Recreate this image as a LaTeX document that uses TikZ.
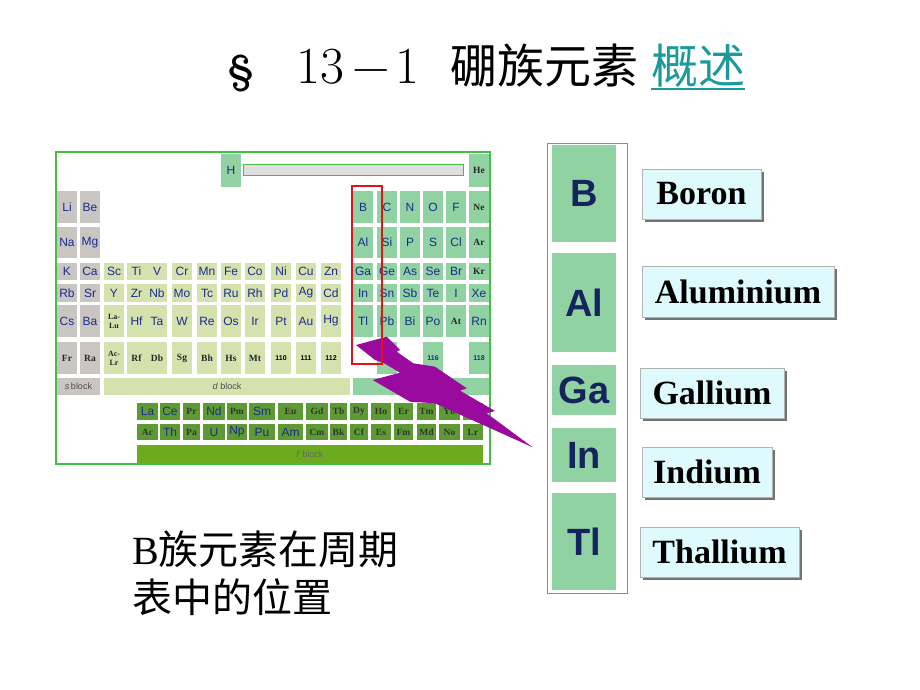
\documentclass[tikz,border=0pt]{standalone}
\usepackage{fontspec}
\usepackage{xcolor}
\usetikzlibrary{positioning, shadows}
\newfontfamily\cjk{Noto Sans CJK SC}
\newfontfamily\arialf{Liberation Sans}
\newfontfamily\timesf{Liberation Serif}
\definecolor{symblue}{HTML}{1B2C8E}
\definecolor{sgray}{HTML}{C9C6C2}
\definecolor{dgreen}{HTML}{D5E2AE}
\definecolor{pgreen}{HTML}{90D2A2}
\definecolor{fgreen}{HTML}{5E9A33}
\definecolor{fbar}{HTML}{6CAA1E}
\definecolor{framegreen}{HTML}{44BF44}
\definecolor{boltpurple}{HTML}{9A0A9E}
\definecolor{navy}{HTML}{16245E}
\definecolor{namecyan}{HTML}{DEFAFD}
\definecolor{tealtitle}{HTML}{1A9A9A}
\definecolor{markred}{HTML}{E8101A}
\definecolor{framered}{HTML}{E06868}

\begin{document}
\begin{tikzpicture}[x=1pt, y=-1pt,
    cell/.style={inner sep=0pt, minimum width=20pt},
    sym/.style={text=symblue, font=\arialf\fontsize{12}{12}\selectfont},
    syn/.style={text=black!85, font=\timesf\bfseries\fontsize{9.5}{10}\selectfont},
    num/.style={font=\arialf\bfseries\fontsize{7}{7}\selectfont},
    sb/.style={cell, fill=sgray, sym}, sn/.style={cell, fill=sgray, syn},
    db/.style={cell, fill=dgreen, sym}, dn/.style={cell, fill=dgreen, syn},
    dnum/.style={cell, fill=dgreen, num, text=black},
    pb/.style={cell, fill=pgreen, sym}, pn/.style={cell, fill=pgreen, syn},
    pnum/.style={cell, fill=pgreen, num, text=symblue},
    fb/.style={cell, fill=fgreen, sym}, fn/.style={cell, fill=fgreen, syn, text=black!80},
    blocklabel/.style={cell, minimum height=17pt, text=black!70, font=\arialf\fontsize{9}{9}\selectfont},
    bigsym/.style={inner sep=0pt, fill=pgreen, minimum width=64pt, text=navy, font=\arialf\bfseries\fontsize{38}{38}\selectfont},
    namebox/.style={draw=gray!60, fill=namecyan, inner sep=0pt, minimum height=50pt,
      font=\timesf\bfseries\fontsize{34}{34}\selectfont,
      drop shadow={shadow xshift=3pt, shadow yshift=-3pt, fill=black!55, opacity=1}}]
  \fill[white] (0,0) rectangle (920,690);
  \useasboundingbox (0,0) rectangle (920,690);

  % title
  \node[anchor=base, font=\bfseries\fontsize{40}{40}\selectfont] (sect) at (241,84) {\S};
  \node[anchor=base, font=\fontsize{52}{52}\selectfont] (num13) at (320,84) {13};
  \node[anchor=base, font=\fontsize{52}{52}\selectfont] (minus) at (371,84) {−};
  \node[anchor=base, font=\fontsize{52}{52}\selectfont] (num1) at (407,84) {1};
  \node[anchor=base west, inner sep=0pt, font=\cjk\fontsize{47}{47}\selectfont] (family) at (450,84) {硼族元素};
  \node[anchor=base west, inner sep=0pt, text=tealtitle, font=\cjk\fontsize{47}{47}\selectfont] (overview) at (651,84) {概述};
  \draw[tealtitle, line width=2.5pt] ([yshift=-5pt]overview.base west) -- ([yshift=-5pt]overview.base east);

  % periodic table
  \node[pb, minimum height=33pt] (eH) at (231,170.5) {H};
  \node[draw=framegreen, fill=gray!25, inner sep=0pt, minimum width=220pt, minimum height=11pt] (hbar) at (353.5,169.5) {};
  \node[pn, minimum height=33pt] (eHe) at (479,170.5) {He};
  \foreach \x/\s/\k in {67/Li/sb, 90/Be/sb, 363/B/pb, 387/C/pb, 410/N/pb, 433/O/pb, 456/F/pb, 479/Ne/pn}
    \node[\k, minimum height=32pt] (e\s) at (\x,207) {\s};
  \foreach \x/\s/\k in {67/Na/sb, 90/Mg/sb, 363/Al/pb, 387/Si/pb, 410/P/pb, 433/S/pb, 456/Cl/pb, 479/Ar/pn}
    \node[\k, minimum height=31pt] (e\s) at (\x,242.5) {\s};
  \foreach \x/\s/\k in {67/K/sb, 90/Ca/sb, 114/Sc/db, 136.5/Ti/db, 157/V/db, 182/Cr/db, 207/Mn/db,
      231/Fe/db, 255/Co/db, 281/Ni/db, 306/Cu/db, 331/Zn/db, 363/Ga/pb, 387/Ge/pb, 410/As/pb,
      433/Se/pb, 456/Br/pb, 479/Kr/pn}
    \node[\k, minimum height=17pt] (e\s) at (\x,271.5) {\s};
  \foreach \x/\s/\k in {67/Rb/sb, 90/Sr/sb, 114/Y/db, 136.5/Zr/db, 157/Nb/db, 182/Mo/db, 207/Tc/db,
      231/Ru/db, 255/Rh/db, 281/Pd/db, 306/Ag/db, 331/Cd/db, 363/In/pb, 387/Sn/pb, 410/Sb/pb,
      433/Te/pb, 456/I/pb, 479/Xe/pb}
    \node[\k, minimum height=18pt] (e\s) at (\x,293) {\s};
  \foreach \x/\s/\k in {67/Cs/sb, 90/Ba/sb, 136.5/Hf/db, 157/Ta/db, 182/W/db, 207/Re/db,
      231/Os/db, 255/Ir/db, 281/Pt/db, 306/Au/db, 331/Hg/db, 363/Tl/pb, 387/Pb/pb, 410/Bi/pb,
      433/Po/pb, 456/At/pn, 479/Rn/pb}
    \node[\k, minimum height=32pt] (e\s) at (\x,321) {\s};
  \node[dn, minimum height=32pt, align=center, font=\timesf\bfseries\fontsize{8}{9}\selectfont] (eLaLu) at (114,321) {La-\\Lu};
  \foreach \x/\s/\k in {67/Fr/sn, 90/Ra/sn, 136.5/Rf/dn, 157/Db/dn, 182/Sg/dn, 207/Bh/dn,
      231/Hs/dn, 255/Mt/dn, 281/110/dnum, 306/111/dnum, 331/112/dnum, 433/116/pnum, 479/118/pnum}
    \node[\k, minimum height=32pt] (e\s) at (\x,358) {\s};
  \node[dn, minimum height=32pt, align=center, font=\timesf\bfseries\fontsize{8}{9}\selectfont] (eAcLr) at (114,358) {Ac-\\Lr};
  \node[pb, minimum height=32pt] (e114) at (387,358) {};

  % blocks
  \node[blocklabel, fill=sgray, minimum width=43pt] (sblock) at (78.5,386.5) {\textit{s}\,block};
  \node[blocklabel, fill=dgreen, minimum width=246pt] (dblock) at (227,386.5) {\textit{d} block};
  \node[blocklabel, fill=pgreen, minimum width=136pt] (pblock) at (421,386.5) {};

  % f block
  \foreach \x/\w/\a/\ka/\b/\kb in {147.5/21/La/fb/Ac/fn, 170/20/Ce/fb/Th/fb, 191.5/17/Pr/fn/Pa/fn,
      214/22/Nd/fb/U/fb, 237/20/Pm/fn/Np/fb, 262/26/Sm/fb/Pu/fb, 290.5/25/Eu/fn/Am/fb,
      317/22/Gd/fn/Cm/fn, 338.5/17/Tb/fn/Bk/fn, 359/18/Dy/fn/Cf/fn, 381/20/Ho/fn/Es/fn,
      403.5/19/Er/fn/Fm/fn, 426.5/19/Tm/fn/Md/fn, 449.5/21/Yb/fn/No/fn, 473/20/Lu/fn/Lr/fn}
  {
    \node[\ka, minimum width=\w pt, minimum height=17pt] (e\a) at (\x,411.5) {\a};
    \node[\kb, minimum width=\w pt, minimum height=16pt] (e\b) at (\x,432) {\b};
  }
  \node[blocklabel, fill=fbar, minimum width=346pt, minimum height=18pt, text=black!60] (fblock) at (310,454) {\textit{f} block};

  \draw[framegreen, line width=1.2pt] (56,152) rectangle (490,464);

  % bolt
  \fill[boltpurple] (356,345) -- (386.7,336.7) -- (400,350) -- (396.7,351.7) -- (413.3,363.3)
    -- (435,366.7) -- (466.7,388.3) -- (460,390.7) -- (495,411) -- (486.7,413.3)
    -- (532.7,447.3) -- (435,403.3) -- (410,401.7) -- (372.7,380) -- (400,372.7)
    -- (383.3,362.7) -- (375,360) -- cycle;
  \draw[markred, line width=2pt] (352,186) rectangle (382,364);

  % group column
  \draw[framered, line width=0.9pt] (547,143) rectangle (627,593);
  \node[bigsym, minimum height=97pt] (bB) at (584,193.5) {B};
  \node[bigsym, minimum height=99pt] (bAl) at (584,302.5) {Al};
  \node[bigsym, minimum height=50pt] (bGa) at (584,390) {Ga};
  \node[bigsym, minimum height=54pt] (bIn) at (584,455) {In};
  \node[bigsym, minimum height=97pt] (bTl) at (584,541.5) {Tl};

  \node[namebox, minimum width=119pt] (nB) at (701.5,194) {Boron};
  \node[namebox, minimum width=192pt, minimum height=51pt] (nAl) at (738,291.5) {Aluminium};
  \node[namebox, minimum width=144pt] (nGa) at (712,393) {Gallium};
  \node[namebox, minimum width=130pt] (nIn) at (707,472) {Indium};
  \node[namebox, minimum width=159pt] (nTl) at (719.5,552) {Thallium};

  % caption
  \node[anchor=base west, inner sep=0pt, font=\cjk\fontsize{40}{40}\selectfont] (where1) at (132,564) {{\timesf B}族元素在周期};
  \node[anchor=base west, inner sep=0pt, font=\cjk\fontsize{40}{40}\selectfont] (where2) at (132,612) {表中的位置};
\end{tikzpicture}
\end{document}
